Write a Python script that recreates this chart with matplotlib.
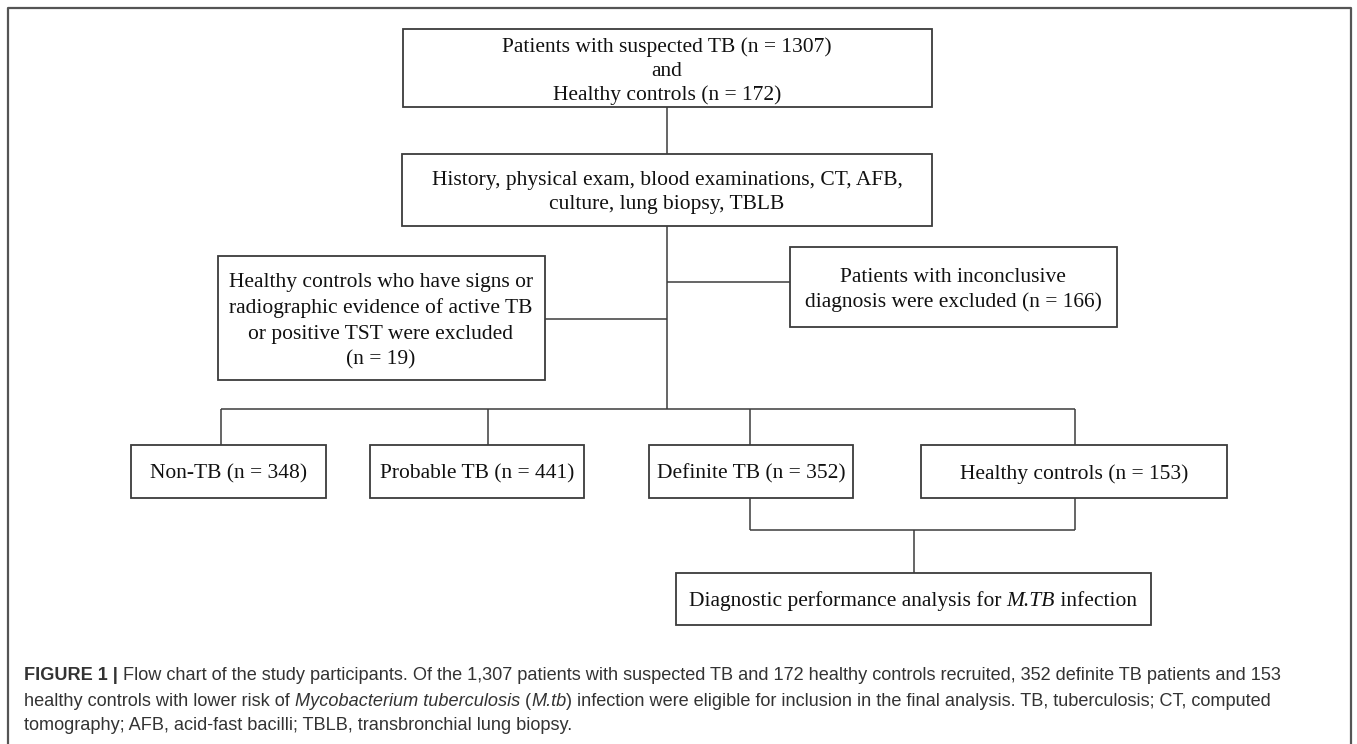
import matplotlib
matplotlib.use("Agg")
import matplotlib.pyplot as plt
from matplotlib.patches import Rectangle

# box labels of the flow chart
top_lines = ["Patients with suspected TB (n = 1307)", "and", "Healthy controls (n = 172)"]
exam_lines = ["History, physical exam, blood examinations, CT, AFB,", "culture, lung biopsy, TBLB"]
excl_left = ["Healthy controls who have signs or", "radiographic evidence of active TB",
             "or positive TST were excluded", "(n = 19)"]
excl_right = ["Patients with inconclusive", "diagnosis were excluded (n = 166)"]
groups = ["Non-TB (n = 348)", "Probable TB (n = 441)", "Definite TB (n = 352)", "Healthy controls (n = 153)"]
final_runs = [("Diagnostic performance analysis for ", "normal"), ("M.TB", "italic"), (" infection", "normal")]

caption = [
    [("FIGURE 1 | ", "bold"), ("Flow chart of the study participants. Of the 1,307 patients with suspected TB and 172 "
                               "healthy controls recruited, 352 definite TB patients and 153", "normal")],
    [("healthy controls with lower risk of ", "normal"), ("Mycobacterium tuberculosis", "italic"), (" (", "normal"),
     ("M.tb", "italic"), (") infection were eligible for inclusion in the final analysis. TB, tuberculosis; CT, computed",
                          "normal")],
    [("tomography; AFB, acid-fast bacilli; TBLB, transbronchial lung biopsy.", "normal")],
]

W, H = 1357, 744
fig = plt.figure(figsize=(W / 100, H / 100), dpi=100)
ax = fig.add_axes([0, 0, 1, 1])
ax.set_xlim(0, W)
ax.set_ylim(H, 0)
ax.axis("off")

SERIF = "Liberation Serif"
FS = 15.5
DY = 2  # small nudge so text sits like the reference


def box(x0, y0, x1, y1):
    ax.add_patch(Rectangle((x0, y0), x1 - x0, y1 - y0, fill=False, ec="#3c3c3c", lw=1.3))


def line(xs, ys):
    ax.plot(xs, ys, color="#3c3c3c", lw=1.1, solid_capstyle="butt")


def lines_text(cx, ys, texts):
    for y, t in zip(ys, texts):
        ax.text(cx, y + DY, t, ha="center", va="center", family=SERIF, fontsize=FS, color="#111111")


renderer = fig.canvas.get_renderer()


def run_text(x, y, runs, family, size, color, center=False):
    # draw pieces of text with different styles side by side
    arts = []
    cx = x
    for t, st in runs:
        kw = dict(family=family, fontsize=size, color=color, va="center", ha="left")
        if st == "bold":
            kw["fontweight"] = "bold"
        if st == "italic":
            kw["fontstyle"] = "italic"
        a = ax.text(cx, y, t, **kw)
        w = a.get_window_extent(renderer).width
        arts.append(a)
        cx += w
    if center:
        shift = (cx - x) / 2
        for a in arts:
            px, py = a.get_position()
            a.set_position((px - shift, py))


# outer frame
ax.plot([8, 8, 1351, 1351], [760, 8, 8, 760], color="#555555", lw=1.6)

# top box
box(403, 29, 932, 107)
lines_text(667, [45, 69, 93], top_lines)
line([667, 667], [107, 154])

# exam box
box(402, 154, 932, 226)
lines_text(667, [178, 202], exam_lines)
line([667, 667], [226, 409])

# exclusions
box(218, 256, 545, 380)
lines_text(381, [281, 306, 332, 358], excl_left)
line([545, 667], [319, 319])
box(790, 247, 1117, 327)
lines_text(953, [275, 300], excl_right)
line([667, 790], [282, 282])

# split into groups
gx = [221, 488, 750, 1075]
line([gx[0], gx[-1]], [409, 409])
for x in gx:
    line([x, x], [409, 445])
gbox = [(131, 326), (370, 584), (649, 853), (921, 1227)]
for (x0, x1), lab in zip(gbox, groups):
    box(x0, 445, x1, 498)
    lines_text((x0 + x1) / 2, [472], [lab])

# merge definite TB + healthy controls
line([750, 750], [498, 530])
line([1075, 1075], [498, 530])
line([750, 1075], [530, 530])
line([914, 914], [530, 573])
box(676, 573, 1151, 625)
run_text(913, 599 + DY, final_runs, SERIF, FS, "#111111", center=True)

# caption
for y, runs in zip([676, 701, 726], caption):
    run_text(24, y, runs, "Liberation Sans", 13.1, "#333333")

fig.savefig("out.png", dpi=100)
